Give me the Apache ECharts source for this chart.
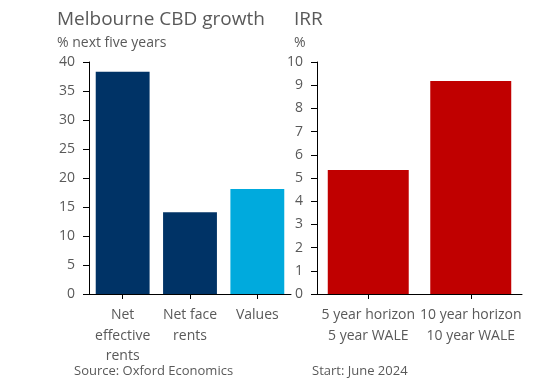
<!DOCTYPE html>
<html><head><meta charset="utf-8">
<script src="https://cdn.jsdelivr.net/npm/echarts@6/dist/echarts.min.js"></script>
<style>html,body{margin:0;padding:0;background:#fff}#c{width:559px;height:388px}</style>
</head><body><div id="c"></div>
<script>
const growthCategories = ['Net\neffective\nrents', 'Net face\nrents', 'Values'];
const growthValues = [38.3, 14.1, 18.1];
const growthColors = ['#003366', '#003366', '#00AADD'];
const irrCategories = ['5 year horizon\n5 year WALE', '10 year horizon\n10 year WALE'];
const irrValues = [5.35, 9.18];
const growthTicks = [0, 40, 5];
const irrTicks = [0, 10, 1];

const txt = '#595959';
const font = 'Open Sans';
const chart = echarts.init(document.getElementById('c'), null, {renderer: 'canvas'});
const yAxisBase = (t, gi) => ({
  type: 'value', gridIndex: gi, min: t[0], max: t[1], interval: t[2],
  splitLine: {show: false},
  axisLine: {show: true, lineStyle: {color: '#000', width: 1}},
  axisTick: {show: true, length: 6, lineStyle: {color: '#000'}},
  axisLabel: {color: txt, fontFamily: font, fontSize: 14, margin: 14}
});
const xAxisBase = (cats, gi) => ({
  type: 'category', gridIndex: gi, data: cats,
  axisLine: {show: true, lineStyle: {color: '#000', width: 1}},
  axisTick: {show: true, alignWithLabel: true, length: 5, lineStyle: {color: '#000'}},
  axisLabel: {color: txt, fontFamily: font, fontSize: 14, lineHeight: 20.5, margin: 11, interval: 0}
});
const t = (text, left, top, size) => ({text, left, top, padding: 0,
  textStyle: {color: txt, fontFamily: font, fontSize: size, fontWeight: 'normal'}});
chart.setOption({
  animation: false,
  title: [
    t('Melbourne CBD growth', 57, 10, 19),
    t('% next five years', 57, 36, 14),
    t('IRR', 294, 10, 19),
    t('%', 294, 36, 14),
    t('Source: Oxford Economics', 74, 365, 13),
    t('Start: June 2024', 312, 365, 13)
  ],
  grid: [
    {left: 89, top: 62, width: 202, height: 232},
    {left: 317, top: 62, width: 205, height: 232}
  ],
  xAxis: [xAxisBase(growthCategories, 0), xAxisBase(irrCategories, 1)],
  yAxis: [yAxisBase(growthTicks, 0), yAxisBase(irrTicks, 1)],
  series: [
    {type: 'bar', xAxisIndex: 0, yAxisIndex: 0, barWidth: '80%',
     data: growthValues.map((v, i) => ({value: v, itemStyle: {color: growthColors[i]}}))},
    {type: 'bar', xAxisIndex: 1, yAxisIndex: 1, barWidth: '79%', itemStyle: {color: '#C00000'},
     data: irrValues}
  ]
});
</script></body></html>
